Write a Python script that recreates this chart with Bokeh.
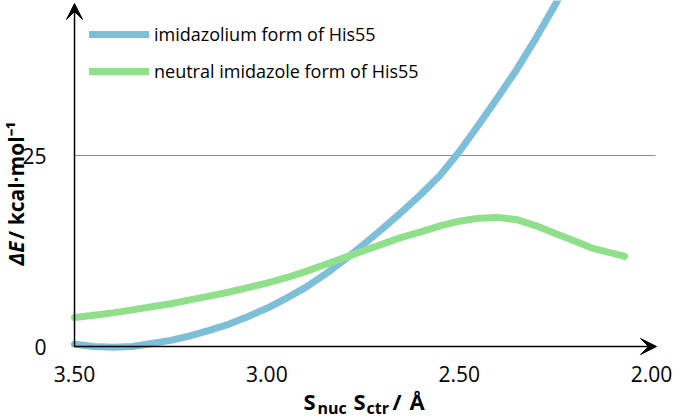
from bokeh.plotting import figure
from bokeh.models import (Range1d, FixedTicker, Arrow, VeeHead, Label,
                          Legend, LegendItem, PrintfTickFormatter, LinearAxis)
from bokeh.embed import file_html
from bokeh.resources import INLINE

# ---- data ----
distance_imidazolium = [3.50, 3.45, 3.40, 3.35, 3.30, 3.25, 3.20, 3.15, 3.10, 3.05,
                        3.00, 2.95, 2.90, 2.85, 2.80, 2.75, 2.70, 2.65, 2.60, 2.55,
                        2.50, 2.45, 2.40, 2.35, 2.30, 2.25, 2.20]
energy_imidazolium = [0.3, 0.0, -0.1, 0.0, 0.4, 0.8, 1.4, 2.1, 2.9, 3.9,
                      5.0, 6.3, 7.7, 9.4, 11.3, 13.3, 15.4, 17.6, 19.9, 22.4,
                      25.5, 29.0, 32.6, 36.3, 40.4, 44.8, 49.3]

distance_neutral = [3.50, 3.45, 3.40, 3.35, 3.30, 3.25, 3.20, 3.15, 3.10, 3.05,
                    3.00, 2.95, 2.90, 2.85, 2.80, 2.75, 2.70, 2.65, 2.60, 2.55,
                    2.50, 2.45, 2.40, 2.35, 2.30, 2.25, 2.20, 2.15, 2.10, 2.07]
energy_neutral = [3.8, 4.1, 4.4, 4.8, 5.2, 5.6, 6.1, 6.6, 7.1, 7.7,
                  8.3, 9.0, 9.8, 10.7, 11.6, 12.5, 13.4, 14.3, 15.0, 15.8,
                  16.4, 16.8, 16.9, 16.6, 15.8, 14.8, 13.8, 12.8, 12.2, 11.8]

series_labels = ["imidazolium form of His55", "neutral imidazole form of His55"]
x_ticks = [3.50, 3.00, 2.50, 2.00]
y_ticks = [0, 25]
reference_level = 25

BLUE = "#7DBED8"
GREEN = "#90E08B"
FONT = "Open Sans"

W, H = 677, 417
# axis extents (data units)
X_AXIS_START, X_AXIS_END = 3.50, 1.987
Y_AXIS_END = 44.9
# full-canvas frame; ranges chosen so the axes sit where the reference has them
X_START, X_END = 3.6924, 1.9326
Y_START, Y_END = -9.293, 45.29

p = figure(width=W, height=H, output_backend="svg", toolbar_location=None,
           x_range=Range1d(X_START, X_END), y_range=Range1d(Y_START, Y_END),
           min_border=0, x_axis_type=None, y_axis_type=None)
p.outline_line_color = None
p.grid.visible = False
p.background_fill_color = "white"
p.border_fill_color = "white"

xaxis = LinearAxis(fixed_location=0, ticker=FixedTicker(ticks=x_ticks),
                   formatter=PrintfTickFormatter(format="%.2f"))
yaxis = LinearAxis(fixed_location=X_AXIS_START, ticker=FixedTicker(ticks=y_ticks))
for ax in (xaxis, yaxis):
    ax.axis_line_color = None
    ax.major_tick_line_color = None
    ax.minor_tick_line_color = None
    ax.major_label_text_font = FONT
    ax.major_label_text_font_size = "21px"
    ax.major_label_text_color = "black"
xaxis.major_label_standoff = 13
yaxis.major_label_standoff = 22
p.add_layout(xaxis, "below")
p.add_layout(yaxis, "left")

# reference line at 25
p.segment(x0=[X_AXIS_START], y0=[reference_level], x1=[X_AXIS_END + 0.003],
          y1=[reference_level], line_color="#8a8a8a", line_width=1.2)

# curves
blue = p.line(distance_imidazolium, energy_imidazolium, line_color=BLUE,
              line_width=7, line_cap="round", line_join="round")
green = p.line(distance_neutral, energy_neutral, line_color=GREEN,
               line_width=7, line_cap="round", line_join="round")

# axis arrows
p.add_layout(Arrow(x_start=X_AXIS_START, y_start=0, x_end=X_AXIS_START, y_end=Y_AXIS_END,
                   line_color="black", line_width=1.5,
                   end=VeeHead(size=16, fill_color="black", line_color="black")))
p.add_layout(Arrow(x_start=X_AXIS_START, y_start=0, x_end=X_AXIS_END, y_end=0,
                   line_color="black", line_width=1.5,
                   end=VeeHead(size=16, fill_color="black", line_color="black")))

# legend (location = left, bottom offsets from frame bottom-left)
legend = Legend(items=[LegendItem(label=series_labels[0], renderers=[blue]),
                       LegendItem(label=series_labels[1], renderers=[green])],
                location=(89, 334), glyph_width=60, glyph_height=24,
                label_height=24, spacing=13, padding=0, margin=0,
                label_standoff=5, label_text_font=FONT,
                label_text_font_size="18px", label_text_color="black",
                border_line_alpha=0, background_fill_alpha=0)
p.add_layout(legend)

def lab(text, x, y, size, style="bold", angle=0):
    p.add_layout(Label(text=text, x=x, y=y, x_units="screen", y_units="screen",
                       text_font=FONT, text_font_size=size, text_font_style=style,
                       text_color="black", angle=angle, angle_units="deg",
                       text_align="left", text_baseline="middle"))

# y-axis title (rotated pieces)
lab("ΔE", 15, 152, "21px", "bold italic", 90)
lab("/ kcal·mol⁻¹", 15, 178, "21px", "bold", 90)

# x-axis title (pieces)
lab("S", 303, 17, "22px")
lab("nuc", 317, 10, "16px")
lab("S", 353, 17, "22px")
lab("ctr", 366, 10, "16px")
lab("/", 392, 17, "22px")
lab("Å", 409, 17, "22px")

open("out.html", "w").write(file_html(p, INLINE))
